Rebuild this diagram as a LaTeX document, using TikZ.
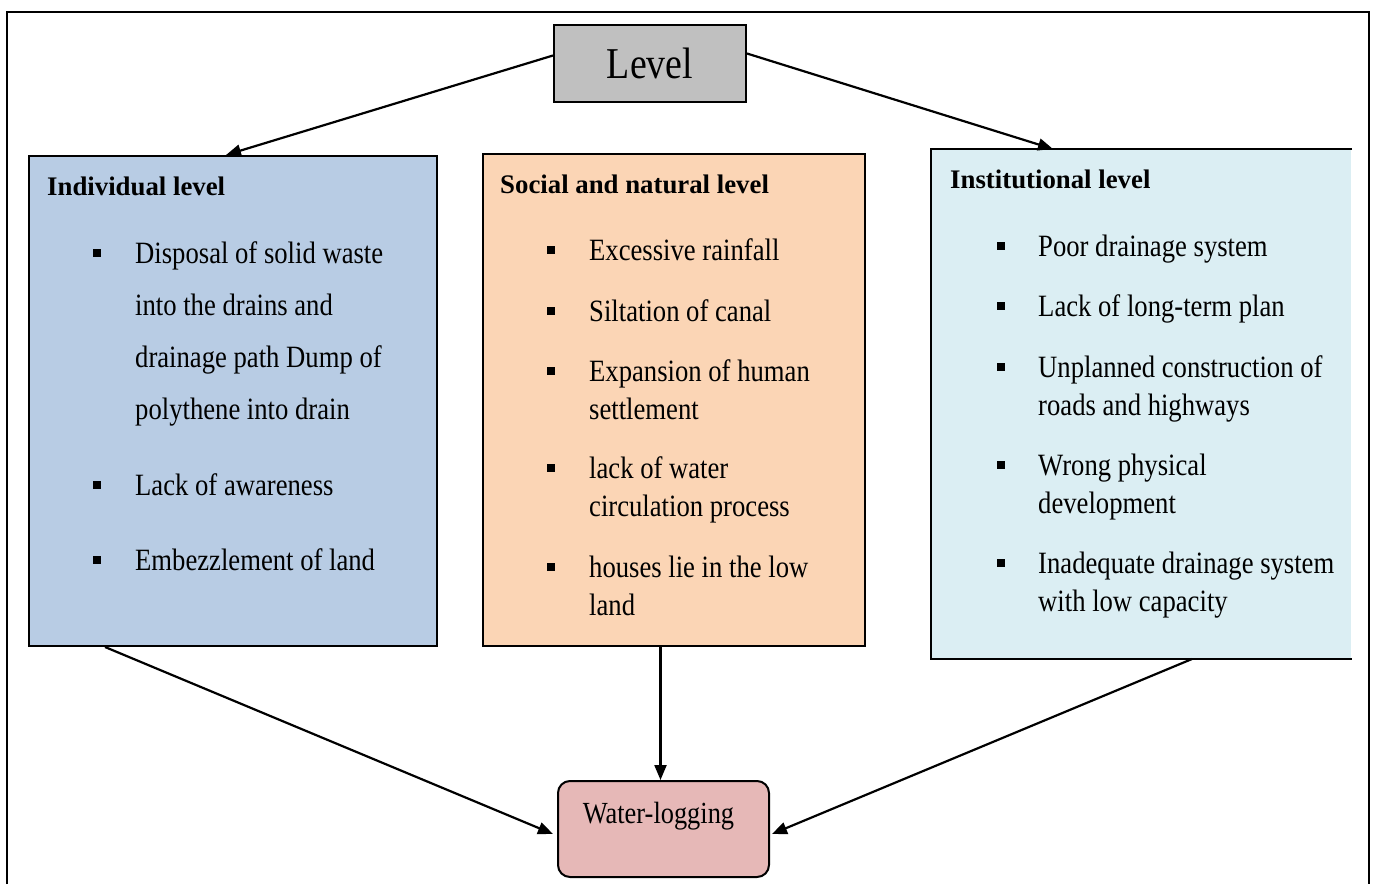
\documentclass[tikz,border=0pt]{standalone}
\usepackage{fontspec}
\setmainfont{Liberation Serif}
\newfontfamily\bodyfont{Liberation Serif}[FakeStretch=0.86]
\usetikzlibrary{arrows.meta}

\definecolor{lvlgray}{HTML}{C0C0C0}
\definecolor{indblue}{HTML}{B8CCE4}
\definecolor{socpeach}{HTML}{FBD5B5}
\definecolor{instcyan}{HTML}{DBEEF3}
\definecolor{wlpink}{HTML}{E6B8B7}

\tikzset{
  panel/.style={draw=black, line width=2pt, inner sep=0pt, anchor=north west},
  arr/.style={draw=black, line width=2.2pt, -{Triangle[length=15pt,width=12pt]}},
  frameline/.style={draw=black, line width=2pt},
  titletxt/.style={anchor=base west, inner sep=0pt, font=\bfseries\fontsize{26.8}{30}\selectfont},
  bodytxt/.style={anchor=base west, inner sep=0pt, font=\bodyfont\fontsize{31}{31}\selectfont},
  sqmark/.style={fill=black, draw=none, minimum size=8pt, inner sep=0pt},
}
\newcommand\bline[4]{\node[bodytxt] (#1) at (#2,#3) {#4};}
\newcommand\bmark[3]{\node[sqmark] (#1) at (#2,#3-10) {};}

\begin{document}
\begin{tikzpicture}[x=1pt, y=-1pt]
\useasboundingbox (0,0) rectangle (1374,884);

% outer frame (open at the bottom)
\draw[frameline] (7,884) -- (7,12) -- (1369,12) -- (1369,884);

% top node
\node[panel, fill=lvlgray, minimum width=192pt, minimum height=77pt,
      font=\bodyfont\fontsize{44}{44}\selectfont] (level) at (553,24) {Level};

% three level panels
\node[panel, fill=indblue, minimum width=408pt, minimum height=490pt] (ind) at (28,155) {};
\node[panel, fill=socpeach, minimum width=382pt, minimum height=492pt] (soc) at (482,153) {};
\node[panel, draw=none, fill=instcyan, minimum width=419pt, minimum height=508pt] (inst) at (931,149) {};
\draw[frameline] (inst.north east) -- (inst.north west) -- (inst.south west) -- (inst.south east);

% result node
\node[panel, fill=wlpink, rounded corners=12pt, minimum width=211pt, minimum height=96pt] (water) at (557,780) {};
\node[anchor=base, inner sep=0pt, font=\bodyfont\fontsize{30.7}{31}\selectfont] (wtxt)
      at ([xshift=-5pt,yshift=-43pt]water.north) {Water-logging};

% individual level
\node[titletxt] (indt) at (47,195) {Individual level};
\bmark{ib1}{97}{263}
\bline{i1a}{135}{263}{Disposal of solid waste}
\bline{i1b}{135}{315}{into the drains and}
\bline{i1c}{135}{367}{drainage path Dump of}
\bline{i1d}{135}{419}{polythene into drain}
\bmark{ib2}{97}{495}
\bline{i2a}{135}{495}{Lack of awareness}
\bmark{ib3}{97}{570}
\bline{i3a}{135}{570}{Embezzlement of land}

% social and natural level
\node[titletxt] (soct) at (500,193) {Social and natural level};
\bmark{sb1}{551}{260}
\bline{s1a}{589}{260}{Excessive rainfall}
\bmark{sb2}{551}{321}
\bline{s2a}{589}{321}{Siltation of canal}
\bmark{sb3}{551}{381}
\bline{s3a}{589}{381}{Expansion of human}
\bline{s3b}{589}{419}{settlement}
\bmark{sb4}{551}{478}
\bline{s4a}{589}{478}{lack of water}
\bline{s4b}{589}{516}{circulation process}
\bmark{sb5}{551}{577}
\bline{s5a}{589}{577}{houses lie in the low}
\bline{s5b}{589}{615}{land}

% institutional level
\node[titletxt] (instt) at (950,188) {Institutional level};
\bmark{nb1}{1001}{256}
\bline{n1a}{1038}{256}{Poor drainage system}
\bmark{nb2}{1001}{316}
\bline{n2a}{1038}{316}{Lack of long-term plan}
\bmark{nb3}{1001}{377}
\bline{n3a}{1038}{377}{Unplanned construction of}
\bline{n3b}{1038}{415}{roads and highways}
\bmark{nb4}{1001}{475}
\bline{n4a}{1038}{475}{Wrong physical}
\bline{n4b}{1038}{513}{development}
\bmark{nb5}{1001}{573}
\bline{n5a}{1038}{573}{Inadequate drainage system}
\bline{n5b}{1038}{611}{with low capacity}

% connectors
\draw[arr] ([yshift=8pt]level.west) -- ([xshift=-7pt]ind.north);
\draw[arr] ([yshift=10pt]level.east) -- ([xshift=122pt]inst.north west);
\draw[arr] ([xshift=77pt]ind.south west) -- ([xshift=-4pt,yshift=-5pt]water.west);
\draw[arr] ([xshift=-3pt]water.north |- soc.south) -- ([xshift=-3pt]water.north);
\draw[arr] ([xshift=261pt]inst.south west) -- ([xshift=2pt,yshift=-5pt]water.east);
\end{tikzpicture}
\end{document}
